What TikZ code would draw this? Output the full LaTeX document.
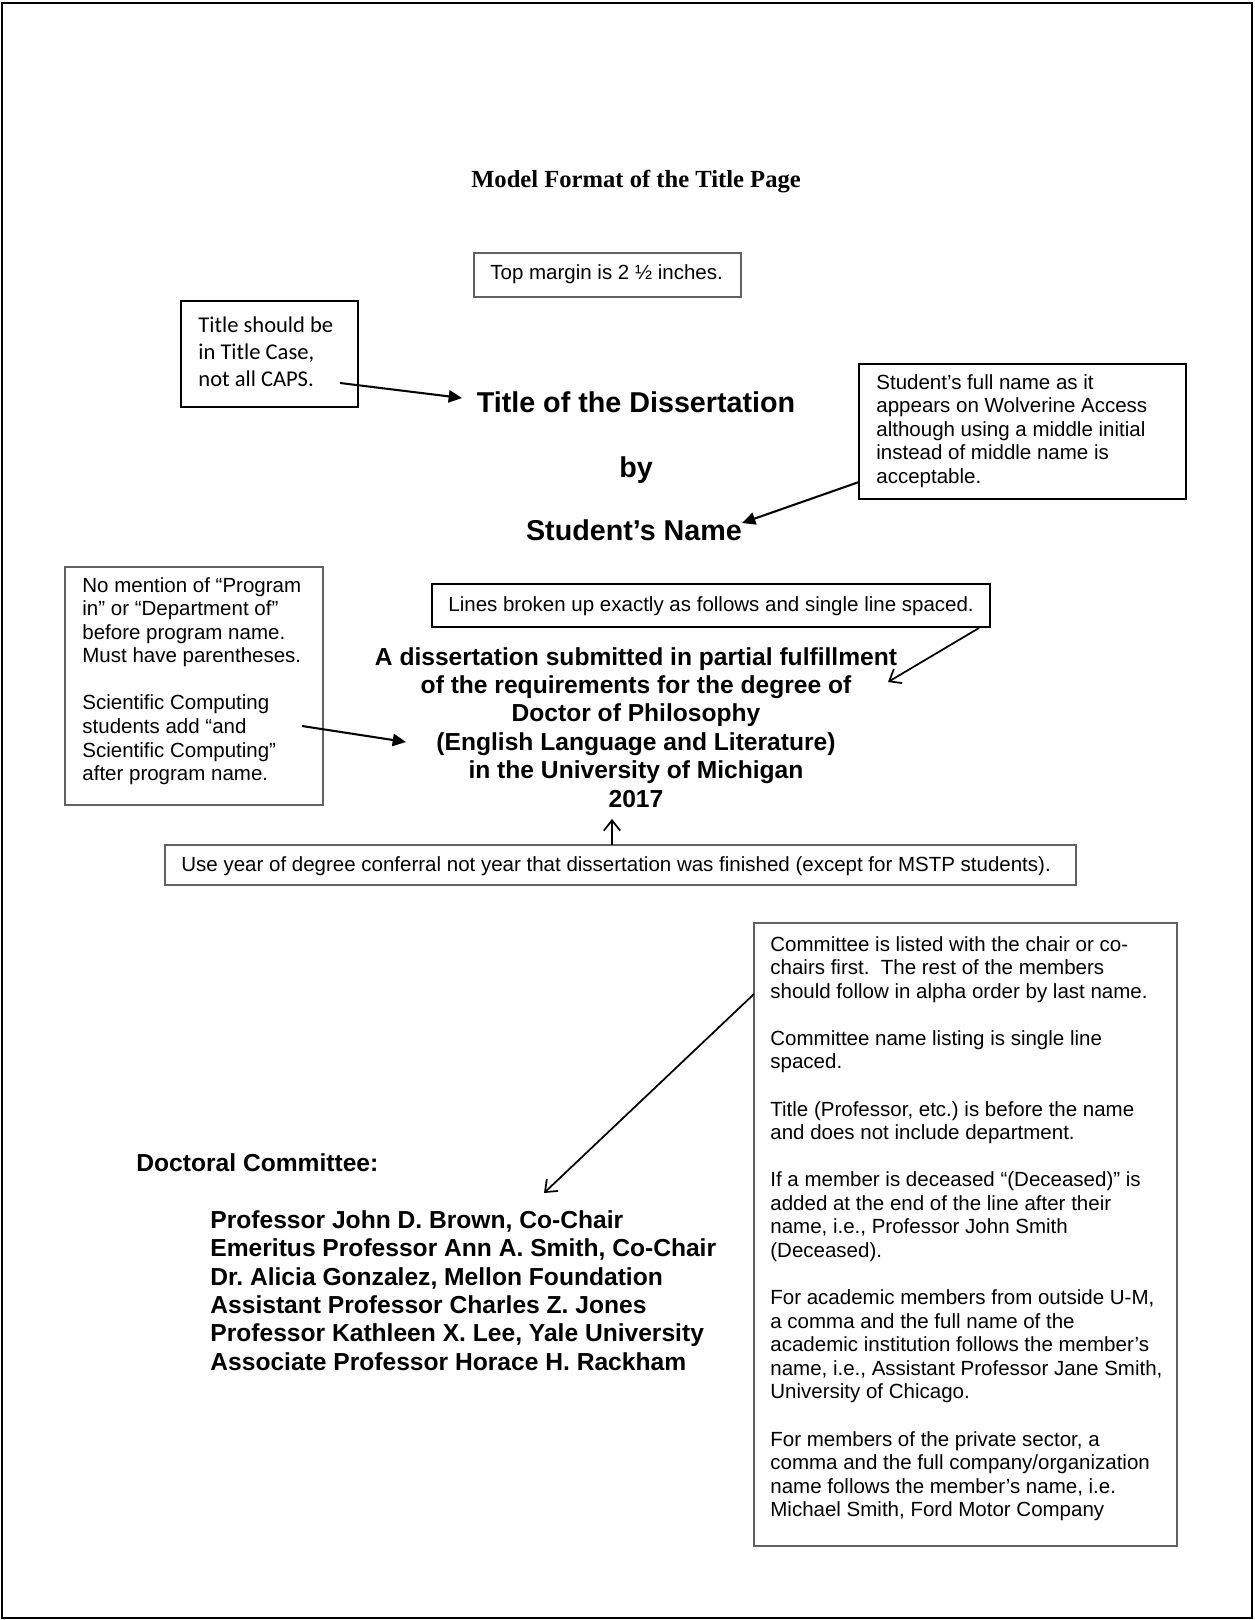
\documentclass[tikz,border=0pt]{standalone}
\usepackage{fontspec}
\setmainfont{Liberation Sans}
\newfontfamily\timesfont{Liberation Serif}
\newfontfamily\calibfont{Carlito}
\usetikzlibrary{arrows.meta,fit}
\frenchspacing
\newcommand{\linesL}[1]{\vtop{\halign{##\hfil\cr#1\crcr}}}
\newcommand{\linesC}[1]{\vtop{\halign{\hfil##\hfil\cr#1\crcr}}}
\begin{document}
\begin{tikzpicture}[x=0.4878pt,y=-0.4878pt,
  pageframe/.style={draw=black, line width=1pt, inner sep=0pt},
  thinbox/.style={draw=black!62, line width=0.55pt, inner sep=0pt},
  thickbox/.style={draw=black, line width=1.1pt, inner sep=0pt},
  note/.style={font=\fontsize{10}{11.5}\selectfont, inner sep=0pt, anchor=base west},
  calnote/.style={font=\calibfont\fontsize{11}{13.4}\selectfont, inner sep=0pt, anchor=base west},
  heading/.style={font=\timesfont\bfseries\fontsize{12}{14}\selectfont, inner sep=0pt, anchor=base},
  big/.style={font=\bfseries\fontsize{14}{16}\selectfont, inner sep=0pt, anchor=base},
  body/.style={font=\bfseries\fontsize{12}{13.9}\selectfont, inner sep=0pt},
  fillarrow/.style={-{Triangle[length=6.5pt,width=6pt]}, line width=1pt},
  openarrow/.style={-{Straight Barb[length=5pt,width=8pt]}, line width=0.85pt},
]
\useasboundingbox (0,0) rectangle (1254,1620);
\node[pageframe, fit={(2,3) (1252,1618)}] (page) {};

\node[heading] (heading) at (636,188) {Model Format of the Title Page};

% top margin
\node[thinbox, fit={(474,253) (741,297)}] (tmbox) {};
\node[note] (tmtext) at (490,280) {Top margin is 2 ½ inches.};

% title case note
\node[thickbox, fit={(181,301) (358,407)}] (tbox) {};
\node[calnote] (ttext) at (198,332) {\linesL{Title should be\cr in Title Case,\cr not all CAPS.}};

% title, by, name
\node[big] (title) at (636,412) {Title of the Dissertation};
\node[big] (by) at (636,477) {by};
\node[big] (sname) at (634,540) {Student’s Name};

% student name note
\node[thickbox, fit={(859,364) (1186,499)}] (sbox) {};
\node[note] (stext) at (876,389) {\linesL{Student’s full name as it\cr appears on Wolverine Access\cr although using a middle initial\cr instead of middle name is\cr acceptable.}};

% lines note
\node[thickbox, fit={(432,584) (990,627)}] (lbox) {};
\node[note] (ltext) at (448,611) {Lines broken up exactly as follows and single line spaced.};

% degree statement
\node[body, anchor=base] (degree) at (636,665) {\linesC{A dissertation submitted in partial fulfillment\cr of the requirements for the degree of\cr Doctor of Philosophy\cr (English Language and Literature)\cr in the University of Michigan\cr 2017}};

% program note
\node[thinbox, fit={(65,567) (323,805)}] (pbox) {};
\node[note] (ptext) at (82,592) {\linesL{No mention of “Program\cr in” or “Department of”\cr before program name.\cr Must have parentheses.\cr \cr Scientific Computing\cr students add “and\cr Scientific Computing”\cr after program name.}};

% year note
\node[thinbox, fit={(165,845) (1076,885)}] (ybox) {};
\node[note] (ytext) at (181,871) {Use year of degree conferral not year that dissertation was finished (except for MSTP students).};

% committee note
\node[thinbox, fit={(754,923) (1177,1546)}] (cbox) {};
\node[note] (ctext) at (770,951) {\linesL{Committee is listed with the chair or co-\cr chairs first.\ \ The rest of the members\cr should follow in alpha order by last name.\cr \cr Committee name listing is single line\cr spaced.\cr \cr Title (Professor, etc.) is before the name\cr and does not include department.\cr \cr If a member is deceased “(Deceased)” is\cr added at the end of the line after their\cr name, i.e., Professor John Smith\cr (Deceased).\cr \cr For academic members from outside U-M,\cr a comma and the full name of the\cr academic institution follows the member’s\cr name, i.e., Assistant Professor Jane Smith,\cr University of Chicago.\cr \cr For members of the private sector, a\cr comma and the full company/organization\cr name follows the member’s name, i.e.\cr Michael Smith, Ford Motor Company}};

% committee list
\node[body, anchor=base west] (dc) at (136,1171) {Doctoral Committee:};
\node[body, anchor=base west] (names) at (210,1228) {\linesL{Professor John D. Brown, Co-Chair\cr Emeritus Professor Ann A. Smith, Co-Chair\cr Dr. Alicia Gonzalez, Mellon Foundation\cr Assistant Professor Charles Z. Jones\cr Professor Kathleen X. Lee, Yale University\cr Associate Professor Horace H. Rackham}};

% arrow end points
\coordinate (a1s) at (340,383);
\coordinate (a1e) at (462,398);
\coordinate (a2s) at (859,482);
\coordinate (a2e) at (742,523);
\coordinate (a3s) at (979,628);
\coordinate (a3e) at (888,682);
\coordinate (a4s) at (302,726);
\coordinate (a4e) at (406,742);
\coordinate (a5s) at (612,845);
\coordinate (a5e) at (612,819);
\coordinate (a6s) at (754,994);
\coordinate (a6e) at (544,1193);

\draw[fillarrow] (a1s) -- (a1e);
\draw[fillarrow] (a2s) -- (a2e);
\draw[openarrow] (a3s) -- (a3e);
\draw[fillarrow] (a4s) -- (a4e);
\draw[openarrow] (a5s) -- (a5e);
\draw[openarrow] (a6s) -- (a6e);
\end{tikzpicture}
\end{document}
